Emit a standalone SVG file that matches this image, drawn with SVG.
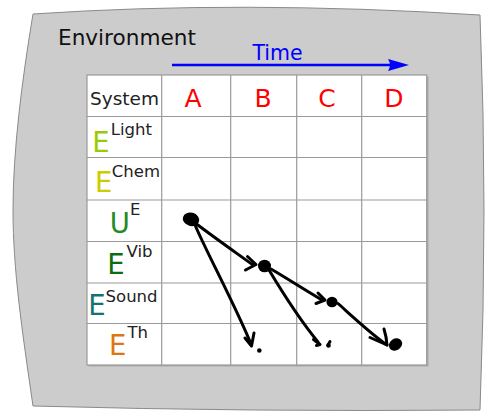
<svg xmlns="http://www.w3.org/2000/svg" width="487" height="412" viewBox="0 0 487 412">
<style>
text{font-family:"DejaVu Sans","Verdana",sans-serif}
.hd{font-size:25px;fill:#ff0000;text-anchor:middle}
.big{font-size:27.5px}
.sup{font-size:16.5px;fill:#222222}
.grid{stroke:#9a9a9a;stroke-width:1.2;fill:none}
.ink{stroke:#000;stroke-width:3;fill:none;stroke-linecap:round;stroke-linejoin:round}
</style>
<g id="environment">
<path d="M33,14 Q240,0 480,15 Q488,210 480,410 Q250,412 33,406 C22,330 13,270 13,210 C13,150 22,80 33,14 Z" fill="#cccccc" stroke="#8a8a8a" stroke-width="1"/>
<text x="58" y="45" font-size="21.6" fill="#111">Environment</text>
</g>
<g id="time-axis">
<line x1="172" y1="65" x2="392" y2="65" stroke="#0000ff" stroke-width="2.6"/>
<path d="M409,65 L388,59 Q392,65 388,71 Z" fill="#0000ff"/>
<text x="277.5" y="60" font-size="20.5" fill="#0000ff" text-anchor="middle">Time</text>
</g>
<g id="table">
<rect x="88.5" y="76.5" width="340" height="290" fill="#aaaaaa"/>
<rect x="87" y="75" width="339.7" height="290" fill="#ffffff" stroke="#9a9a9a" stroke-width="1.2"/>
<path class="grid" d="M161.7,75V365M230.7,75V365M296.7,75V365M361.7,75V365M87,116.5H426.7M87,157.5H426.7M87,200H426.7M87,241.5H426.7M87,283H426.7M87,323.5H426.7"/>
</g>
<g id="header">
<text x="90" y="105" font-size="18.5" fill="#222">System</text>
<text class="hd" x="193" y="106.5">A</text>
<text class="hd" x="263" y="106.5">B</text>
<text class="hd" x="327" y="106.5">C</text>
<text class="hd" x="394" y="106.5">D</text>
</g>
<g id="row-light"><text class="big" x="92.3" y="151.7" fill="#99cc00">E</text><text class="sup" x="110.7" y="135">Light</text></g>
<g id="row-chem"><text class="big" x="95" y="191.7" fill="#cccc00">E</text><text class="sup" x="111.8" y="176.7">Chem</text></g>
<g id="row-ue"><text class="big" x="109.8" y="232.7" fill="#228b22">U</text><text class="sup" x="130" y="215">E</text></g>
<g id="row-vib"><text class="big" x="107.3" y="274" fill="#0b6e0b">E</text><text class="sup" x="126.5" y="256.7">Vib</text></g>
<g id="row-sound"><text class="big" x="88.3" y="315" fill="#137373">E</text><text class="sup" x="105.6" y="301.7">Sound</text></g>
<g id="row-th"><text class="big" x="109" y="355" fill="#dd7711">E</text><text class="sup" x="127.4" y="338.3">Th</text></g>
<g id="dot-a"><ellipse cx="191" cy="219.3" rx="8.3" ry="6.7" transform="rotate(15 191 219.3)" fill="#000"/></g>
<g id="dot-b"><ellipse cx="264.5" cy="266" rx="6.5" ry="6.3" fill="#000"/></g>
<g id="dot-c"><ellipse cx="332" cy="302" rx="5.6" ry="5.2" fill="#000"/></g>
<g id="dot-d"><ellipse cx="395.5" cy="344.5" rx="7" ry="5.8" transform="rotate(-35 395.5 344.5)" fill="#000"/></g>
<g id="dot-b-th"><circle cx="259.3" cy="350.5" r="2.3" fill="#000"/></g>
<g id="dot-c-th"><circle cx="328.5" cy="345.5" r="2.3" fill="#000"/><path class="ink" stroke-width="1.8" d="M328,345 L330,341.5"/></g>
<g id="connectors">
<path class="ink" d="M196.5,224 C215,238 235,252 253,265"/>
<path class="ink" d="M247.5,256.5 L256,264.5 L245.5,270"/>
<path class="ink" d="M195,225 C207,253 235,305 251,344"/>
<path class="ink" d="M245,338 L251.5,346 L254,333"/>
<path class="ink" d="M271,269 C288,279 305,290 322,300"/>
<path class="ink" d="M318,293 L325,300 L316,303.5"/>
<path class="ink" d="M269,270 C284,295 300,320 318,342"/>
<path class="ink" d="M313.5,339.5 L320,344.5 L316.5,345.5"/>
<path class="ink" d="M338,303.5 C352,316 370,333 387,345"/>
<path class="ink" d="M384,329 Q386.5,337 387,345 L370,337.5"/>
</g>
</svg>
